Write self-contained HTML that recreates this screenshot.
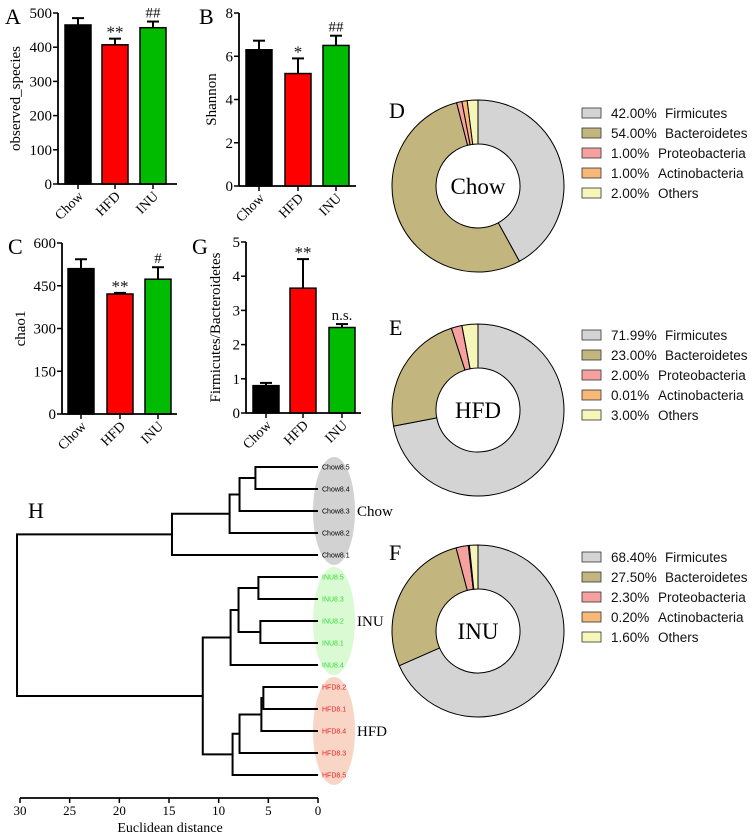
<!DOCTYPE html>
<html><head><meta charset="utf-8"><style>
html,body{margin:0;padding:0;background:#fff;}
svg{display:block;}
.serif{font-family:"Liberation Serif",serif;}
.sans{font-family:"Liberation Sans",sans-serif;}
</style></head><body>
<svg id="fig" width="752" height="837" viewBox="0 0 752 837" xmlns="http://www.w3.org/2000/svg"></svg>
<script>
// ---- Bar chart data ----
const groups = ["Chow","HFD","INU"];
const obsVals = [465, 407, 457];
const obsErr = [20, 18, 18];
const obsMarks = ["", "**", "##"];
const shanVals = [6.3, 5.2, 6.5];
const shanErr = [0.42, 0.7, 0.45];
const shanMarks = ["", "*", "##"];
const chaoVals = [510, 421, 473];
const chaoErr = [33, 4, 42];
const chaoMarks = ["", "**", "#"];
const fbVals = [0.8, 3.65, 2.5];
const fbErr = [0.08, 0.85, 0.1];
const fbMarks = ["", "**", "n.s."];
const obsTicks = [0,100,200,300,400,500];
const shanTicks = [0,2,4,6,8];
const chaoTicks = [0,150,300,450,600];
const fbTicks = [0,1,2,3,4,5];
const barColors = ["#000000","#ff0000","#00bb00"];

// ---- Donut data ----
const phyla = ["Firmicutes","Bacteroidetes","Proteobacteria","Actinobacteria","Others"];
const chowPct = [42.00, 54.00, 1.00, 1.00, 2.00];
const hfdPct = [71.99, 23.00, 2.00, 0.01, 3.00];
const inuPct = [68.40, 27.50, 2.30, 0.20, 1.60];
const phylaColors = ["#d4d4d4","#c2b67e","#f6a0a0","#f8b878","#f6f6b8"];

// ---- Dendrogram data ----
const leaves = ["Chow8.5","Chow8.4","Chow8.3","Chow8.2","Chow8.1","INU8.5","INU8.3","INU8.2","INU8.1","INU8.4","HFD8.2","HFD8.1","HFD8.4","HFD8.3","HFD8.5"];
const leafGroup = [0,0,0,0,0,1,1,1,1,1,2,2,2,2,2];
// merges: [childA, childB, height]; node ids 15+ refer to earlier merges
const merges = [
 [0,1,6.3],[15,2,7.9],[16,3,8.9],[17,4,14.7],
 [5,6,6.0],[7,8,5.8],[19,20,8.0],[21,9,8.8],
 [10,11,5.5],[23,12,5.7],[24,13,7.9],[25,14,8.6],
 [22,26,11.6],[18,27,30.3]
];
const distTicks = [30,25,20,15,10,5,0];

const NS="http://www.w3.org/2000/svg";
const svg=document.getElementById('fig');
function el(tag,attrs,parent,text){
  const e=document.createElementNS(NS,tag);
  for(const k in attrs) e.setAttribute(k,attrs[k]);
  if(text!==undefined) e.textContent=text;
  (parent||svg).appendChild(e);
  return e;
}

function barChart(cfg){
  const g=el('g',{});
  
  
  const yScale=v=>cfg.y0-(v-cfg.min)/(cfg.max-cfg.min)*(cfg.y0-cfg.yTop);
  const L=el('text',{x:cfg.letterX,y:cfg.letterY,'font-size':22,class:'serif'},g,cfg.letter);
  
  
  cfg.vals.forEach((v,i)=>{
    const cx=cfg.centers[i];
    const top=yScale(v), et=yScale(v+cfg.err[i]);
    const ln=el('line',{x1:cx,x2:cx,y1:top,y2:et,stroke:'#000','stroke-width':2},g);
    
    
    el('line',{x1:cx-6,x2:cx+6,y1:et,y2:et,stroke:'#000','stroke-width':2},g);
    const r=el('rect',{x:cx-cfg.bw/2,y:top,width:cfg.bw,height:cfg.y0-top,fill:barColors[i],stroke:'#000','stroke-width':1.5},g);
    
    
    if(cfg.marks[i]){
      const isStar=cfg.marks[i].indexOf('*')>=0;
      const m=el('text',{x:cx,y:isStar?et-1:et-4,'text-anchor':'middle','font-size':isStar?17:15,class:'serif',fill:'#111'},g,cfg.marks[i]);
      
      
    }
    el('line',{x1:cx,x2:cx,y1:cfg.y0,y2:cfg.y0+5,stroke:'#000','stroke-width':1.5},g);
    const t=el('text',{transform:`translate(${cx+6},${cfg.y0+13}) rotate(-45)`,'text-anchor':'end','font-size':14,class:'serif'},g,groups[i]);
    
    
  });
  const ya=el('line',{x1:cfg.ax,x2:cfg.ax,y1:cfg.yTop,y2:cfg.y0,stroke:'#000','stroke-width':1.8},g);
  
  
  const xa=el('line',{x1:cfg.ax,x2:cfg.axEnd,y1:cfg.y0,y2:cfg.y0,stroke:'#000','stroke-width':1.8},g);
  
  
  cfg.ticks.forEach(t=>{
    const y=yScale(t);
    el('line',{x1:cfg.ax-5,x2:cfg.ax,y1:y,y2:y,stroke:'#000','stroke-width':1.5},g);
    const tl=el('text',{x:cfg.ax-6,y:y+5,'text-anchor':'end','font-size':15,class:'serif'},g,String(t));
    
    
  });
  const yt=el('text',{transform:`translate(${cfg.titleX},${(cfg.y0+cfg.yTop)/2}) rotate(-90)`,'text-anchor':'middle','font-size':15,class:'serif'},g,cfg.title);
  
  
}

barChart({name:'chart-a-observed-species',letter:'A',letterX:5,letterY:24,vals:obsVals,err:obsErr,marks:obsMarks,ticks:obsTicks,min:0,max:500,y0:184,yTop:13,ax:58,axEnd:177,centers:[78,115,153],bw:26,title:'observed_species',titleX:20});
barChart({name:'chart-b-shannon',letter:'B',letterX:199,letterY:24,vals:shanVals,err:shanErr,marks:shanMarks,ticks:shanTicks,min:0,max:8,y0:186,yTop:13,ax:239,axEnd:356,centers:[259,298,336],bw:26,title:'Shannon',titleX:216});
barChart({name:'chart-c-chao1',letter:'C',letterX:8,letterY:254,vals:chaoVals,err:chaoErr,marks:chaoMarks,ticks:chaoTicks,min:0,max:600,y0:414,yTop:243,ax:62,axEnd:177,centers:[81,120,158],bw:26,title:'chao1',titleX:25});
barChart({name:'chart-g-firmicutes-bacteroidetes',letter:'G',letterX:192,letterY:254,vals:fbVals,err:fbErr,marks:fbMarks,ticks:fbTicks,min:0,max:5,y0:413,yTop:242,ax:246,axEnd:361,centers:[266,303,342],bw:26,title:'Firmicutes/Bacteroidetes',titleX:220});

// ---- Donuts ----
function donut(cfg){
  const g=el('g',{});
  
  
  const R=86, r=42, cx=478, cy=cfg.cy;
  const total=cfg.pct.reduce((a,b)=>a+b,0);
  let acc=0;
  cfg.pct.forEach((p,i)=>{
    const a0=acc/total*2*Math.PI; acc+=p; const a1=acc/total*2*Math.PI;
    const pt=(rad,a)=>[cx+rad*Math.sin(a),cy-rad*Math.cos(a)];
    const large=(a1-a0)>Math.PI?1:0;
    const [x0,y0]=pt(R,a0),[x1,y1]=pt(R,a1),[x2,y2]=pt(r,a1),[x3,y3]=pt(r,a0);
    const d=`M${x0},${y0} A${R},${R} 0 ${large} 1 ${x1},${y1} L${x2},${y2} A${r},${r} 0 ${large} 0 ${x3},${y3} Z`;
    const s=el('path',{d,fill:phylaColors[i],stroke:'#000','stroke-width':1},g);
    
    
  });
  const c=el('text',{x:cx,y:cy+8,'text-anchor':'middle','font-size':23,class:'serif'},g,cfg.center);
  
  
  const L=el('text',{x:389,y:cfg.letterY,'font-size':22,class:'serif'},g,cfg.letter);
  
  
  cfg.pct.forEach((p,i)=>{
    const y=cfg.legY+i*20;
    const e=el('g',{},g);
    
    
    el('rect',{x:582,y:y-5,width:19,height:10,fill:phylaColors[i],stroke:'#333','stroke-width':0.8},e);
    const pctX = p>=10 ? 611 : 611;
    el('text',{x:pctX,y:y+5,'font-size':13.5,class:'sans',fill:'#111'},e,p.toFixed(2)+'%');
    el('text',{x:p>=10?665:658,y:y+5,'font-size':13.5,class:'sans',fill:'#111'},e,phyla[i]);
  });
}
donut({name:'donut-d-chow',pct:chowPct,cy:186,center:'Chow',letter:'D',letterY:118,legY:113});
donut({name:'donut-e-hfd',pct:hfdPct,cy:410,center:'HFD',letter:'E',letterY:335,legY:335});
donut({name:'donut-f-inu',pct:inuPct,cy:631,center:'INU',letter:'F',letterY:560,legY:557});

// ---- Dendrogram ----
(function(){
  const g=el('g',{});
  
  
  const xS=d=>318-d*(298/30);
  const leafY=i=>467+i*22;
  const ellColors=["#d2d2d2","#d9fad2","#f9d5c6"];
  const groupNames=["Chow","INU","HFD"];
  const labelColors=["#000","#33dd33","#ee2020"];
  [0,1,2].forEach(k=>{
    const idx=leafGroup.map((v,i)=>v===k?i:-1).filter(i=>i>=0);
    const cy=(leafY(idx[0])+leafY(idx[idx.length-1]))/2;
    const e=el('ellipse',{cx:334,cy:cy,rx:21,ry:54,fill:ellColors[k]},g);
    
    
    const t=el('text',{x:357,y:cy+5,'font-size':15,class:'serif'},g,groupNames[k]);
    
    
  });
  const pos=leaves.map((l,i)=>({x:xS(0),y:leafY(i)}));
  leaves.forEach((l,i)=>{
    const t=el('text',{x:322,y:leafY(i)+2.5,'font-size':7,class:'sans',fill:labelColors[leafGroup[i]]},g,l);
    
    
  });
  merges.forEach(m=>{
    const a=pos[m[0]],b=pos[m[1]],x=xS(m[2]);
    const p=el('path',{d:`M${a.x},${a.y} H${x} V${b.y} H${b.x}`,fill:'none',stroke:'#000','stroke-width':2},g);
    
    
    pos.push({x:x,y:(a.y+b.y)/2});
  });
  const H=el('text',{x:28,y:518,'font-size':22,class:'serif'},g,'H');
  
  
  const ax=el('line',{x1:20,x2:318,y1:798,y2:798,stroke:'#000','stroke-width':1.8},g);
  
  
  distTicks.forEach(t=>{
    el('line',{x1:xS(t),x2:xS(t),y1:798,y2:803,stroke:'#000','stroke-width':1.5},g);
    const tl=el('text',{x:xS(t),y:815,'text-anchor':'middle','font-size':13,class:'serif'},g,String(t));
    
    
  });
  const at=el('text',{x:170,y:832,'text-anchor':'middle','font-size':14,class:'serif'},g,'Euclidean distance');
  
  
})();
</script>
</body></html>
